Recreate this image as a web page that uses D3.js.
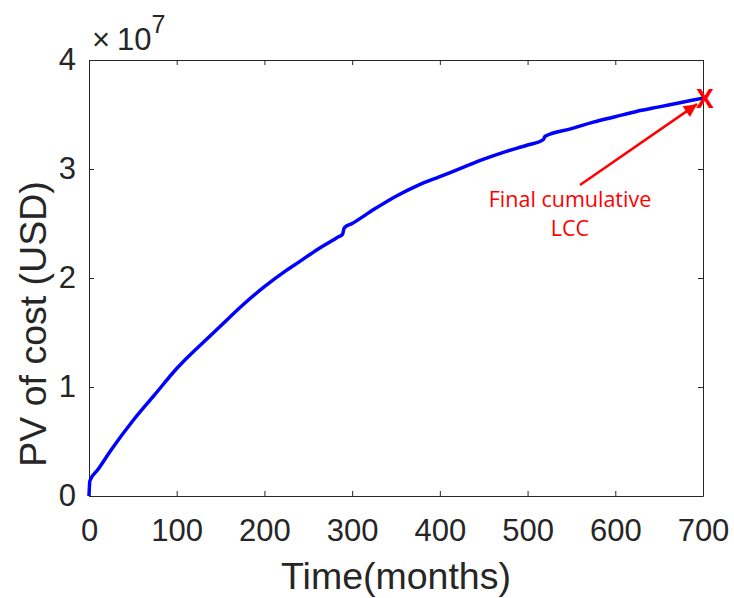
<!DOCTYPE html>
<html>
<head>
<meta charset="utf-8">
<script src="https://cdn.jsdelivr.net/npm/d3@7"></script>
<style>
  html, body { margin: 0; padding: 0; background: #fff; }
  svg { display: block; }
</style>
</head>
<body>
<svg id="chart" width="734" height="598"></svg>
<script>
// ---- data ----
const months = [0, 1, 10, 25, 50, 75, 100, 121, 125, 150, 175, 200, 225, 240, 260, 285, 289, 291, 300,
                325, 350, 375, 400, 425, 450, 475, 500, 518, 520, 550, 575, 600, 625, 650, 675, 700];
const pvCostE7 = [0, 0.14, 0.24, 0.42, 0.69, 0.93, 1.17, 1.34, 1.37, 1.56, 1.75, 1.92, 2.07, 2.15, 2.26, 2.38, 2.40, 2.46, 2.50,
                  2.63, 2.75, 2.85, 2.93, 3.01, 3.09, 3.16, 3.22, 3.27, 3.30, 3.37, 3.43, 3.48, 3.53, 3.57, 3.61, 3.65];
const xTicks = [0, 100, 200, 300, 400, 500, 600, 700];
const yTicks = [0, 1, 2, 3, 4];
const xLabel = "Time(months)";
const yLabel = "PV of cost (USD)";
const annotationLines = ["Final cumulative", "LCC"];
const finalMarker = "X";

(function () {
// ---- layout ----
const svg = d3.select("#chart");
const mLeft = 89, mRight = 703, mTop = 60, mBottom = 496;
const x = d3.scaleLinear().domain([0, 700]).range([mLeft, mRight]);
const y = d3.scaleLinear().domain([0, 4]).range([mBottom, mTop]);
const axisColor = "#262626";
const font = "'Liberation Sans', Arial, Helvetica, sans-serif";

function styleAxis(g, showText) {
  g.select(".domain").attr("stroke", axisColor).attr("stroke-width", 1);
  g.selectAll(".tick line").attr("stroke", axisColor).attr("stroke-width", 1);
  g.selectAll(".tick text").attr("fill", axisColor).style("font-family", font).style("font-size", "31px");
  if (!showText) g.selectAll(".tick text").remove();
}

const gx = svg.append("g").attr("transform", `translate(0,${mBottom})`)
  .call(d3.axisBottom(x).tickValues(xTicks).tickFormat(d3.format("d")).tickSizeInner(-5).tickSizeOuter(0).tickPadding(23));
styleAxis(gx, true);
const gxTop = svg.append("g").attr("transform", `translate(0,${mTop})`)
  .call(d3.axisTop(x).tickValues(xTicks).tickSizeInner(-5).tickSizeOuter(0));
styleAxis(gxTop, false);

const gy = svg.append("g").attr("transform", `translate(${mLeft},0)`)
  .call(d3.axisLeft(y).tickValues(yTicks).tickFormat(d3.format("d")).tickSizeInner(-5).tickSizeOuter(0).tickPadding(13));
styleAxis(gy, true);
const gyRight = svg.append("g").attr("transform", `translate(${mRight},0)`)
  .call(d3.axisRight(y).tickValues(yTicks).tickSizeInner(-5).tickSizeOuter(0));
styleAxis(gyRight, false);

// exponent label
const expText = svg.append("text").attr("x", 92).attr("y", 50)
  .attr("fill", axisColor).style("font-family", font).style("font-size", "31px");
expText.append("tspan").style("font-weight", "300").text("\u00d7");
expText.append("tspan").attr("dx", 7).text("10");
expText.append("tspan").attr("dy", -17).style("font-size", "25px").text("7");

// axis labels
svg.append("text").attr("x", (mLeft + mRight) / 2).attr("y", 589)
  .attr("text-anchor", "middle").attr("fill", axisColor)
  .style("font-family", font).style("font-size", "37.5px").text(xLabel);
svg.append("text").attr("transform", `translate(46,324) rotate(-90)`)
  .attr("text-anchor", "middle").attr("fill", axisColor)
  .style("font-family", font).style("font-size", "37.5px").text(yLabel);

// line
const pts = months.map((m, i) => [m, pvCostE7[i]]);
svg.append("path").datum(pts)
  .attr("fill", "none").attr("stroke", "#0000ff").attr("stroke-width", 3.5)
  .attr("stroke-linejoin", "round")
  .attr("d", d3.line().curve(d3.curveMonotoneX).x(d => x(d[0])).y(d => y(d[1])));

// annotation
const red = "#ff0000";
const lastM = months[months.length - 1], lastV = pvCostE7[pvCostE7.length - 1];
svg.append("text").attr("x", x(lastM) + 2).attr("y", y(lastV) + 10)
  .attr("text-anchor", "middle").attr("fill", red)
  .style("font-family", "'Open Sans', sans-serif").style("font-weight", "bold").style("font-size", "26px")
  .text(finalMarker);

const defs = svg.append("defs");
defs.append("marker").attr("id", "ah").attr("viewBox", "0 0 10 10")
  .attr("refX", 10).attr("refY", 5).attr("markerWidth", 16).attr("markerHeight", 13)
  .attr("orient", "auto").attr("markerUnits", "userSpaceOnUse")
  .append("path").attr("d", "M0,0 L10,5 L0,10 Z").attr("fill", red);

svg.append("line").attr("x1", 580).attr("y1", 185)
  .attr("x2", x(lastM) - 6).attr("y2", y(lastV) + 6)
  .attr("stroke", red).attr("stroke-width", 2.5).attr("marker-end", "url(#ah)");

svg.selectAll(".ann").data(annotationLines).join("text")
  .attr("class", "ann")
  .attr("x", 570).attr("y", (d, i) => 207 + i * 29)
  .attr("text-anchor", "middle").attr("fill", red)
  .style("font-family", "'Open Sans', sans-serif").style("font-size", "21.5px")
  .text(d => d);
})();
</script>
</body>
</html>
